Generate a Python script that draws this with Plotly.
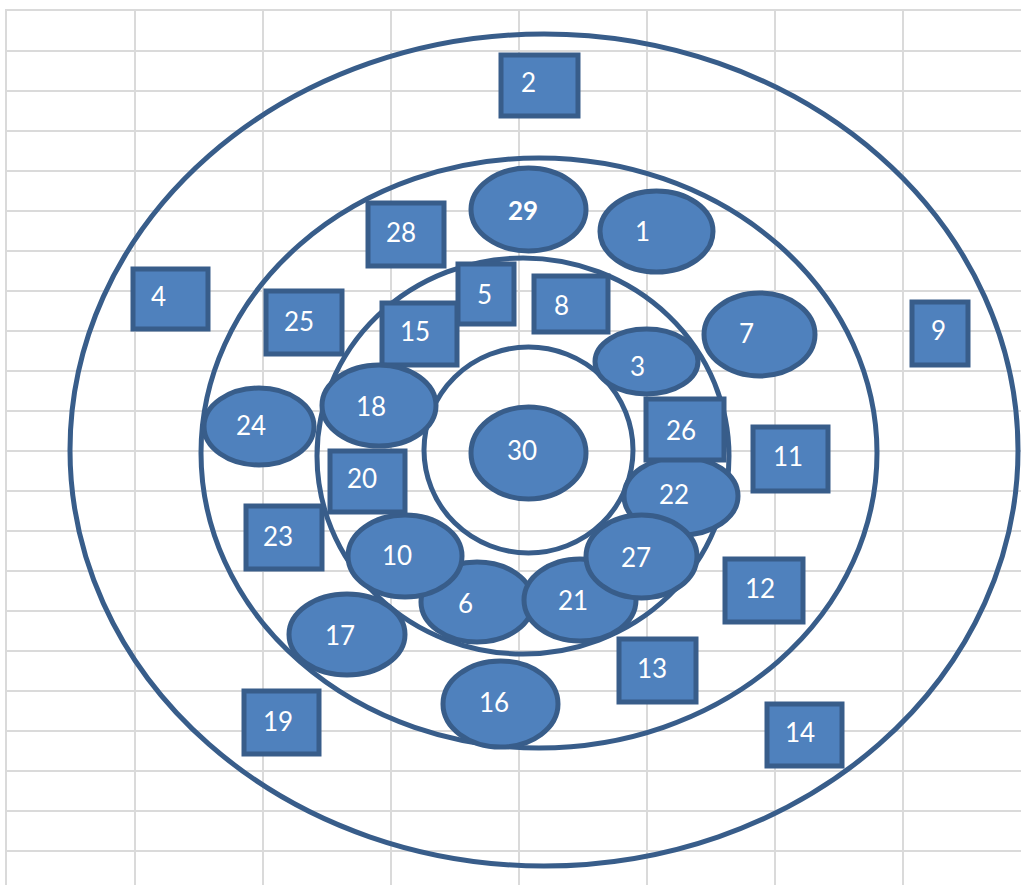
import plotly.graph_objects as go

# ---- data ----
ring_x0 = [70, 201, 317, 424]
ring_x1 = [1018, 877, 729, 633]
ring_y0 = [34, 158, 258, 347]
ring_y1 = [866, 748, 654, 553]

item_ids = ["1", "2", "3", "4", "5", "6", "7", "8", "9", "10",
            "11", "12", "13", "14", "15", "16", "17", "18", "19", "20",
            "21", "22", "23", "24", "25", "26", "27", "28", "29", "30"]
item_kind = ["E", "R", "E", "R", "R", "E", "E", "R", "R", "E",
             "R", "R", "R", "R", "R", "E", "E", "E", "R", "R",
             "E", "E", "R", "E", "R", "R", "E", "R", "E", "E"]
item_x0 = [600, 501, 595, 133, 458, 421, 704, 534, 912, 348,
           753, 725, 619, 767, 382, 443, 289, 322, 244, 330,
           524, 624, 246, 204, 266, 646, 586, 368, 471, 471]
item_x1 = [713, 578, 698, 208, 514, 533, 815, 608, 968, 462,
           828, 803, 696, 842, 457, 558, 405, 436, 319, 405,
           636, 738, 322, 314, 342, 724, 697, 444, 586, 586]
item_y0 = [191, 55, 329, 269, 264, 562, 293, 276, 302, 515,
           427, 559, 639, 704, 303, 661, 594, 365, 691, 451,
           559, 457, 506, 388, 291, 399, 515, 203, 168, 407]
item_y1 = [272, 116, 394, 329, 324, 642, 376, 332, 365, 597,
           491, 622, 702, 766, 365, 747, 675, 446, 754, 512,
           641, 535, 569, 465, 354, 460, 598, 266, 251, 499]
label_x = [642, 528, 637, 158, 484, 465, 746, 561, 938, 397,
           788, 760, 652, 800, 415, 494, 340, 371, 278, 362,
           573, 674, 278, 251, 299, 681, 636, 401, 523, 522]
label_y = [231, 82, 366, 296, 294, 603, 333, 305, 330, 555,
           456, 588, 668, 732, 331, 702, 635, 406, 721, 478,
           600, 494, 536, 425, 321, 430, 557, 232, 210, 450]
bold_ids = ["29"]

grid_x = [7, 135, 263, 391, 519, 647, 775, 903]
grid_y = [11 + 40 * i for i in range(22)]

# ---- styling ----
FILL = "#4f81bd"
EDGE = "#385d8a"
GRID = "#dadada"

shapes = []
for a, b, c, d in zip(ring_x0, ring_x1, ring_y0, ring_y1):
    shapes.append(dict(type="circle", xref="x", yref="y", x0=a, x1=b, y0=c, y1=d,
                       line=dict(color=EDGE, width=5), fillcolor="rgba(0,0,0,0)",
                       layer="between"))
for k, a, b, c, d in zip(item_kind, item_x0, item_x1, item_y0, item_y1):
    shapes.append(dict(type="circle" if k == "E" else "rect", xref="x", yref="y",
                       x0=a, x1=b, y0=c, y1=d,
                       line=dict(color=EDGE, width=5), fillcolor=FILL,
                       layer="between"))

annotations = []
for t, x, y in zip(item_ids, label_x, label_y):
    annotations.append(dict(
        x=x, y=y, xref="x", yref="y", showarrow=False,
        text=f"<b>{t}</b>" if t in bold_ids else t,
        font=dict(family="Lato, Open Sans, sans-serif", size=26, color="white"),
        xanchor="center", yanchor="middle"))

fig = go.Figure()
fig.update_layout(
    width=1021, height=885,
    margin=dict(l=0, r=0, t=0, b=0),
    paper_bgcolor="white", plot_bgcolor="white",
    shapes=shapes,
    annotations=annotations,
    showlegend=False,
    xaxis=dict(domain=[7 / 1021, 1], range=[7, 1021], tickvals=grid_x,
               showgrid=True, gridcolor=GRID, gridwidth=2,
               showticklabels=False, ticks="", zeroline=False,
               showline=True, linecolor=GRID, linewidth=2, side="top",
               fixedrange=True),
    yaxis=dict(domain=[0, 874 / 885], range=[885, 11], tickvals=grid_y,
               showgrid=True, gridcolor=GRID, gridwidth=2,
               showticklabels=False, ticks="", zeroline=False,
               showline=True, linecolor=GRID, linewidth=2, side="left",
               fixedrange=True),
)

fig.write_html("out.html", config={"displayModeBar": False},
               post_script="document.body.style.margin='0';document.body.style.overflow='hidden';")
